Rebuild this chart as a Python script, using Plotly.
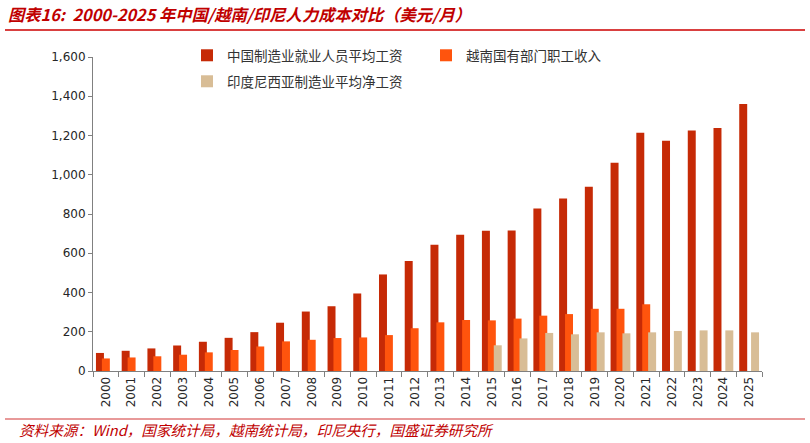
import plotly.graph_objects as go

# 数据（美元/月）
years = [str(y) for y in range(2000, 2026)]
china = [92, 103, 115, 130, 149, 169, 198, 246, 303, 330, 395, 492, 561,
         643, 694, 715, 716, 828, 879, 939, 1061, 1214, 1173, 1226, 1238, 1360]
vietnam = [64, 69, 75, 83, 95, 107, 125, 151, 159, 168, 171, 183, 218,
           248, 260, 258, 267, 282, 290, 317, 317, 340, None, None, None, None]
indonesia = [None] * 15 + [131, 166, 194, 187, 197, 192, 197, 204, 207, 207, 197]

names = ["中国制造业就业人员平均工资", "越南国有部门职工收入", "印度尼西亚制造业平均净工资"]
colors = ["#C62A06", "#FF540D", "#D8BD96"]

W, H = 810, 443
L, R, T, B = 93, 48, 57, 72
PW, PH = W - L - R, H - T - B


def px_x(x):
    return (x - L) / PW


def px_y(y):
    return (H - B - y) / PH


cjk = "Noto Sans CJK SC"
fig = go.Figure()
offsets = [-0.385, -0.155, 0.075]
legends = ["legend", "legend2", "legend3"]
for vals, name, col, off, lg in zip([china, vietnam, indonesia], names, colors, offsets, legends):
    fig.add_trace(go.Bar(
        x=years, y=vals, name=name, marker_color=col,
        marker_line_width=0, width=0.31, offset=off,
        legend=lg, showlegend=True,
    ))

leg_font = dict(family=cjk, size=13.5, color="#333333")
leg_common = dict(orientation="v", bgcolor="rgba(0,0,0,0)", borderwidth=0,
                  font=leg_font, xanchor="left", yanchor="top")
fig.update_layout(
    width=W, height=H,
    margin=dict(l=L, r=R, t=T, b=B, autoexpand=False),
    barmode="overlay",
    plot_bgcolor="white", paper_bgcolor="white",
    legend=dict(x=px_x(187), y=px_y(40), **leg_common),
    legend2=dict(x=px_x(426), y=px_y(40), **leg_common),
    legend3=dict(x=px_x(187), y=px_y(66), **leg_common),
    xaxis=dict(
        type="category", tickangle=-90, tickson="boundaries",
        ticks="outside", ticklen=5, tickcolor="#808080",
        showline=True, linecolor="#808080", linewidth=1,
        tickfont=dict(family="DejaVu Sans", size=12, color="#262626"),
        showgrid=False, automargin=False,
    ),
    yaxis=dict(
        range=[0, 1600], dtick=200, tickformat=",",
        ticks="outside", ticklen=4, tickcolor="#808080",
        showline=True, linecolor="#808080", linewidth=1,
        tickfont=dict(family="DejaVu Sans", size=12, color="#262626"),
        showgrid=False, zeroline=False, automargin=False,
    ),
    font=dict(family=cjk),
)

# 标题与资料来源
fig.add_annotation(
    text="<b><i>图表16:  2000-2025 年中国/越南/印尼人力成本对比（美元/月）</i></b>",
    xref="paper", yref="paper", x=px_x(6), y=px_y(14),
    xanchor="left", yanchor="middle", showarrow=False,
    font=dict(family=cjk, size=16.3, color="#C00000"),
)
fig.add_annotation(
    text="<i>资料来源：Wind，国家统计局，越南统计局，印尼央行，国盛证券研究所</i>",
    xref="paper", yref="paper", x=px_x(17), y=px_y(429),
    xanchor="left", yanchor="middle", showarrow=False,
    font=dict(family=cjk, size=14.6, color="#C00000"),
)
fig.add_shape(type="line", xref="paper", yref="paper",
              x0=px_x(5), x1=px_x(805), y0=px_y(30), y1=px_y(30),
              line=dict(color="#CC0000", width=1.5))
fig.add_shape(type="line", xref="paper", yref="paper",
              x0=px_x(5), x1=px_x(805), y0=px_y(419), y1=px_y(419),
              line=dict(color="#E07777", width=1.3))

fig.write_html("out.html", config={"displayModeBar": False},
               post_script="document.body.style.margin='0';")
